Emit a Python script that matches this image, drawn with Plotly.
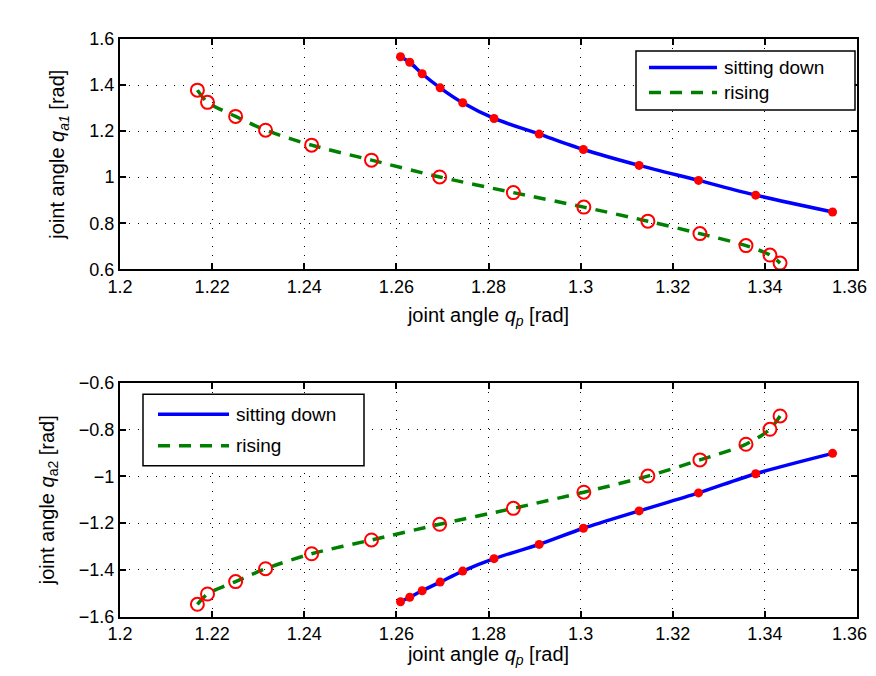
import plotly.graph_objects as go

# ---- data ----
# top panel: q_a1 vs q_p
sit_qp = [1.2609, 1.2629, 1.2656, 1.2695, 1.2744, 1.2812, 1.2910, 1.3006, 1.3127, 1.3256, 1.3380, 1.3547]
sit_qa1 = [1.523, 1.499, 1.449, 1.388, 1.323, 1.255, 1.187, 1.120, 1.051, 0.986, 0.922, 0.849]
rise_qp = [1.2168, 1.2190, 1.2251, 1.2316, 1.2416, 1.2546, 1.2694, 1.2854, 1.3007, 1.3146, 1.3259, 1.3359, 1.3411, 1.3433]
rise_qa1 = [1.378, 1.325, 1.264, 1.204, 1.139, 1.074, 1.001, 0.933, 0.870, 0.809, 0.755, 0.703, 0.662, 0.627]
# bottom panel: q_a2 vs q_p
sit_qa2 = [-1.536, -1.517, -1.489, -1.452, -1.405, -1.352, -1.291, -1.222, -1.148, -1.071, -0.989, -0.902]
rise_qa2 = [-1.547, -1.503, -1.450, -1.395, -1.331, -1.272, -1.205, -1.137, -1.068, -0.999, -0.930, -0.863, -0.799, -0.742]

series_names = ["sitting down", "rising"]

x_ticks = [1.2, 1.22, 1.24, 1.26, 1.28, 1.3, 1.32, 1.34, 1.36]
x_ticktext = ["1.2", "1.22", "1.24", "1.26", "1.28", "1.3", "1.32", "1.34", "1.36\u00a0\u00a0\u00a0"]
y1_ticks = [0.6, 0.8, 1.0, 1.2, 1.4, 1.6]
y1_ticktext = ["0.6", "0.8", "1", "1.2", "1.4", "1.6"]
y2_ticks = [-1.6, -1.4, -1.2, -1.0, -0.8, -0.6]
y2_ticktext = ["\u22121.6", "\u22121.4", "\u22121.2", "\u22121", "\u22120.8", "\u22120.6"]

FONT = "Liberation Sans, Arial, sans-serif"
BLUE = "#0000ff"
GREEN = "#008000"
RED = "#ff0000"
DASH = "12px,9px"

fig = go.Figure()

def add_panel(xa, ya, sit_y, rise_y):
    fig.add_trace(go.Scatter(x=sit_qp, y=sit_y, mode="lines", name=series_names[0],
                             line=dict(color=BLUE, width=3.5, shape="spline", smoothing=0.8),
                             xaxis=xa, yaxis=ya, showlegend=False))
    fig.add_trace(go.Scatter(x=rise_qp, y=rise_y, mode="lines", name=series_names[1],
                             line=dict(color=GREEN, width=3.5, dash=DASH, shape="spline", smoothing=0.8),
                             xaxis=xa, yaxis=ya, showlegend=False))
    fig.add_trace(go.Scatter(x=sit_qp, y=sit_y, mode="markers", showlegend=False,
                             marker=dict(color=RED, size=9, symbol="circle"),
                             xaxis=xa, yaxis=ya))
    fig.add_trace(go.Scatter(x=rise_qp, y=rise_y, mode="markers", showlegend=False,
                             marker=dict(color=RED, size=13, symbol="circle-open", line=dict(width=2, color=RED)),
                             xaxis=xa, yaxis=ya))

add_panel("x", "y", sit_qa1, rise_qa1)
add_panel("x2", "y2", sit_qa2, rise_qa2)

# page body has an 8px margin; keep the figure small enough that no scrollbars appear
W, H = 860, 660
def px(x):
    return x / W
def py(y):
    return 1 - y / H

x0, x1 = px(112), px(849)
top_dom = [py(261.3), py(31)]
bot_dom = [py(608.7), py(374.7)]

axis_common = dict(
    showline=True, linecolor="black", linewidth=2, mirror="ticks",
    ticks="inside", ticklen=6, tickwidth=1.5, tickcolor="black",
    showgrid=True, gridcolor="black", gridwidth=1, griddash="1px,8px",
    zeroline=False, automargin=False, ticklabeloverflow="allow",
    tickfont=dict(family=FONT, size=18, color="black"),
)

title_font = dict(family=FONT, size=20, color="black")
legend_font = dict(family=FONT, size=19, color="black")

# ---- custom legends (box, line samples, labels) ----
shapes = []
annotations = []

def add_legend(box, line_x, text_x, rows):
    bx0, by0, bx1, by1 = box
    shapes.append(dict(type="rect", xref="paper", yref="paper",
                       x0=px(bx0), x1=px(bx1), y0=py(by1), y1=py(by0),
                       line=dict(color="black", width=1.5), fillcolor="white", layer="above"))
    styles = [dict(color=BLUE, width=3.5), dict(color=GREEN, width=3.5, dash=DASH)]
    for name, yrow, st in zip(series_names, rows, styles):
        shapes.append(dict(type="line", xref="paper", yref="paper",
                           x0=px(line_x[0]), x1=px(line_x[1]), y0=py(yrow), y1=py(yrow),
                           line=st, layer="above"))
        annotations.append(dict(text=name, xref="paper", yref="paper", x=px(text_x), y=py(yrow),
                                xanchor="left", yanchor="middle", showarrow=False, font=legend_font))

add_legend((628, 43, 847, 102), (641, 709), 714, (59.5, 84.5))
add_legend((135, 386.3, 356, 457.7), (150, 221), 226, (406.3, 437.7))

fig.update_layout(
    width=W, height=H,
    margin=dict(l=0, r=0, t=0, b=0, autoexpand=False),
    paper_bgcolor="white", plot_bgcolor="white",
    font=dict(family=FONT, color="black"),
    showlegend=False,
    shapes=shapes,
    annotations=annotations,
    xaxis=dict(domain=[x0, x1], range=[1.2, 1.36], tickvals=x_ticks, ticktext=x_ticktext,
               anchor="y", title=dict(text="joint angle <i>q</i><sub><i>p</i></sub> [rad]", font=title_font, standoff=12),
               **axis_common),
    yaxis=dict(domain=top_dom, range=[0.6, 1.6], tickvals=y1_ticks, ticktext=y1_ticktext,
               anchor="x", title=dict(text="joint angle <i>q</i><sub><i>a1</i></sub> [rad]", font=title_font, standoff=19),
               **axis_common),
    xaxis2=dict(domain=[x0, x1], range=[1.2, 1.36], tickvals=x_ticks, ticktext=x_ticktext,
                anchor="y2", title=dict(text="joint angle <i>q</i><sub><i>p</i></sub> [rad]", font=title_font, standoff=11),
                **axis_common),
    yaxis2=dict(domain=bot_dom, range=[-1.6, -0.6], tickvals=y2_ticks, ticktext=y2_ticktext,
                anchor="x2", title=dict(text="joint angle <i>q</i><sub>a2</sub> [rad]", font=title_font, standoff=19),
                **axis_common),
)

fig.write_html("out.html")
